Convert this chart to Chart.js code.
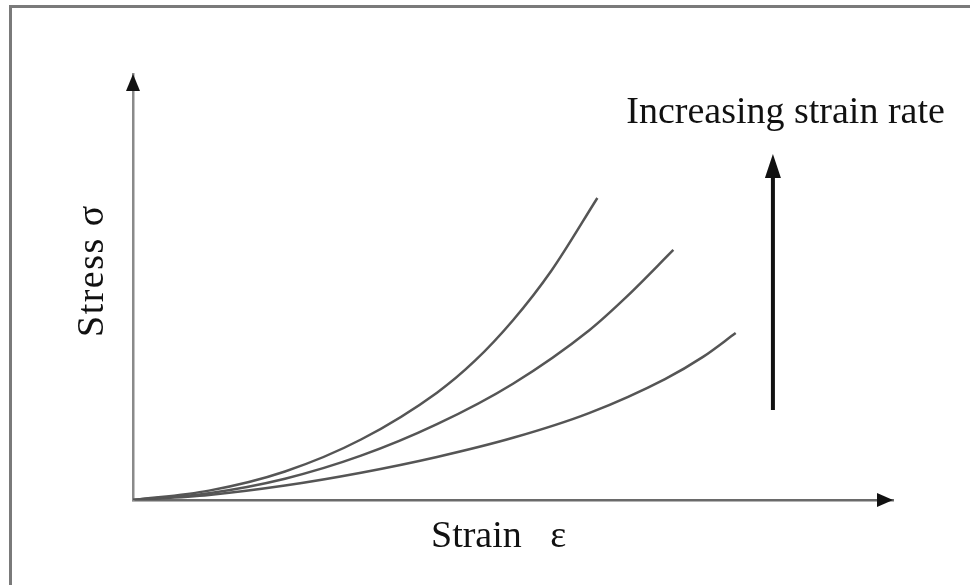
<!DOCTYPE html>
<html>
<head>
<meta charset="utf-8">
<script src="https://cdn.jsdelivr.net/npm/chart.js@4"></script>
<style>
  html, body { margin: 0; padding: 0; background: #fff; overflow: hidden; }
  #wrap { width: 970px; height: 585px; }
</style>
</head>
<body>
<div id="wrap"><canvas id="c" width="970" height="585"></canvas></div>
<script>
// ---- Data (arbitrary units 0..100) ----
const seriesNames = ['High strain rate', 'Medium strain rate', 'Low strain rate'];

const strainHigh = [0, 10, 20, 30, 40, 45, 50, 55, 61.1];
const stressHigh = [0, 2.2, 6.7, 14.2, 25.2, 32.7, 42.2, 53.7, 70.9];

const strainMid = [0, 10, 20, 30, 40, 50, 60, 65, 71.1];
const stressMid = [0, 1.6, 5.0, 10.4, 17.8, 27.3, 39.8, 47.8, 58.7];

const strainLow = [0, 10, 20, 30, 40, 50, 60, 70, 75, 79.3];
const stressLow = [0, 1.2, 3.4, 6.4, 10.1, 14.6, 20.4, 28.4, 33.6, 39.2];

const xTitle = 'Strain   ε';
const yTitle = 'Stress σ';
const noteText = 'Increasing strain rate';

// ---- helpers ----
const toPoints = (xs, ys) => xs.map((x, i) => ({ x: x, y: ys[i] }));

const FONT = '38px "Liberation Serif", "Times New Roman", serif';
const CURVE_COLOR = '#555555';

// annotation placement in data units
const note = { textX: 64.9, textY: 88.5, arrowX: 84.2, arrowFrom: 21.1, arrowTo: 81.2 };

const decorPlugin = {
  id: 'decor',
  beforeDraw(chart) {
    const ctx = chart.ctx;
    ctx.save();
    ctx.fillStyle = '#ffffff';
    ctx.fillRect(0, 0, chart.width, chart.height);
    // outer frame (only left and top edges visible)
    ctx.strokeStyle = '#7a7a7a';
    ctx.lineWidth = 3;
    ctx.beginPath();
    ctx.moveTo(10.5, chart.height + 5);
    ctx.lineTo(10.5, 6.5);
    ctx.lineTo(chart.width + 5, 6.5);
    ctx.stroke();
    ctx.restore();
  },
  afterDraw(chart) {
    const ctx = chart.ctx;
    const a = chart.chartArea;
    const xs = chart.scales.x, ys = chart.scales.y;
    ctx.save();
    ctx.fillStyle = '#111111';
    // y axis arrow head
    ctx.beginPath();
    ctx.moveTo(a.left, a.top);
    ctx.lineTo(a.left - 7, a.top + 17);
    ctx.lineTo(a.left + 7, a.top + 17);
    ctx.closePath();
    ctx.fill();
    // x axis arrow head
    ctx.beginPath();
    ctx.moveTo(a.right, a.bottom);
    ctx.lineTo(a.right - 16, a.bottom - 7);
    ctx.lineTo(a.right - 16, a.bottom + 7);
    ctx.closePath();
    ctx.fill();

    // increasing strain-rate arrow
    const ax = xs.getPixelForValue(note.arrowX);
    const y0 = ys.getPixelForValue(note.arrowFrom);
    const y1 = ys.getPixelForValue(note.arrowTo);
    ctx.strokeStyle = '#111111';
    ctx.lineWidth = 4;
    ctx.beginPath();
    ctx.moveTo(ax, y0);
    ctx.lineTo(ax, y1 + 20);
    ctx.stroke();
    ctx.beginPath();
    ctx.moveTo(ax, y1);
    ctx.lineTo(ax - 8, y1 + 24);
    ctx.lineTo(ax + 8, y1 + 24);
    ctx.closePath();
    ctx.fill();

    // texts
    ctx.font = FONT;
    ctx.textBaseline = 'alphabetic';
    ctx.textAlign = 'left';
    ctx.fillText(noteText, xs.getPixelForValue(note.textX), ys.getPixelForValue(note.textY));
    // x title
    ctx.fillText(xTitle, a.left + 298, a.bottom + 47);
    // y title rotated
    ctx.save();
    ctx.translate(a.left - 30, a.bottom - 163);
    ctx.rotate(-Math.PI / 2);
    try { ctx.letterSpacing = '1.5px'; } catch (e) {}
    ctx.fillText(yTitle, 0, 0);
    ctx.restore();
    ctx.restore();
  }
};

const mkSet = (label, xs, ys) => ({
  label: label,
  data: toPoints(xs, ys),
  borderColor: CURVE_COLOR,
  borderWidth: 2.5,
  pointRadius: 0,
  fill: false,
  showLine: true,
  cubicInterpolationMode: 'monotone'
});

new Chart(document.getElementById('c'), {
  type: 'scatter',
  data: {
    datasets: [
      mkSet(seriesNames[0], strainHigh, stressHigh),
      mkSet(seriesNames[1], strainMid, stressMid),
      mkSet(seriesNames[2], strainLow, stressLow)
    ]
  },
  options: {
    responsive: false,
    animation: false,
    devicePixelRatio: 1,
    layout: { autoPadding: false, padding: { left: 133, right: 77, top: 74, bottom: 85 } },
    plugins: { legend: { display: false }, tooltip: { enabled: false } },
    scales: {
      x: {
        type: 'linear', min: 0, max: 100,
        grid: { display: false, drawTicks: false },
        ticks: { display: false },
        border: { display: true, color: '#6a6a6a', width: 2.5 }
      },
      y: {
        type: 'linear', min: 0, max: 100,
        grid: { display: false, drawTicks: false },
        ticks: { display: false },
        border: { display: true, color: '#8a8a8a', width: 2.5 }
      }
    }
  },
  plugins: [decorPlugin]
});
</script>
</body>
</html>
